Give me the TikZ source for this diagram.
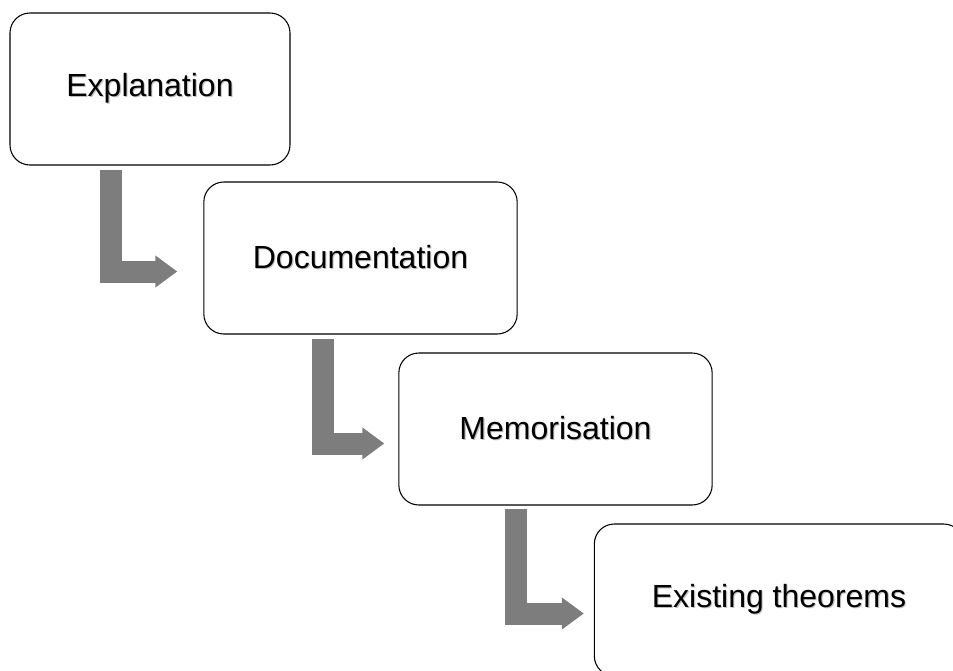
\documentclass[tikz,border=0pt]{standalone}
\usepackage{fontspec}
\setmainfont{Liberation Sans}
\usepackage{xcolor}
\usetikzlibrary{arrows.meta}
\newcommand{\softshade}[1]{\makebox[0pt][l]{\hspace{0.8pt}\raisebox{-0.8pt}{\textcolor{black!25}{#1}}}#1}

\begin{document}
\begin{tikzpicture}[x=0.75pt,y=-0.75pt,
    stagebox/.style={draw=black, line width=0.8pt, rounded corners=15pt,
      fill=white, inner sep=0pt, minimum height=114pt, font=\fontsize{24}{28}\selectfont},
    flow/.style={draw=gray!98!black, line width=16.5pt, line join=miter,
      -{Triangle[length=16.5pt, width=23pt]}}]
  \useasboundingbox (0,0) rectangle (953,671);
  \node[stagebox, minimum width=210pt] (expl) at (150,89) {\softshade{Explanation}};
  \node[stagebox, minimum width=235pt] (docu) at (360.5,258) {\softshade{Documentation}};
  \node[stagebox, minimum width=235pt] (memo) at (555.5,429) {\softshade{Memorisation}};
  \node[stagebox, minimum width=277pt] (exist) at (779,600) {\softshade{Existing theorems}};
  \draw[flow] ([shift={(101.5,4)}]expl.south west) |- ([shift={(-26,13.5)}]docu.west);
  \draw[flow] ([shift={(120,4)}]docu.south west) |- ([shift={(-14,14.5)}]memo.west);
  \draw[flow] ([shift={(118,3)}]memo.south west) |- ([shift={(-10,13.5)}]exist.west);
\end{tikzpicture}
\end{document}
